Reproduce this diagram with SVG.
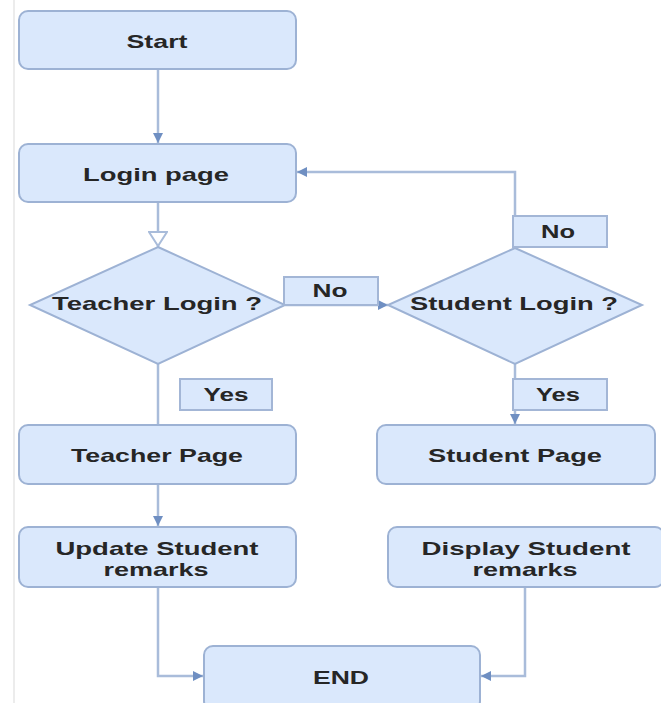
<svg xmlns="http://www.w3.org/2000/svg" width="661" height="703" viewBox="0 0 661 703">
<style>
.box{fill:#dae8fc;stroke:#9db2d4;stroke-width:2}
.lbl{fill:#dae8fc;stroke:#a3b6d6;stroke-width:2}
.t{font-family:"Liberation Sans",Arial,sans-serif;font-weight:bold;font-size:19px;fill:#262626;text-anchor:middle}
.c{fill:none;stroke:#a9bcda;stroke-width:2.5}
</style>
<defs>
<marker id="a" viewBox="0 0 10 10" refX="10" refY="5" markerWidth="10" markerHeight="10" markerUnits="userSpaceOnUse" orient="auto">
<path d="M0,0 L10,5 L0,10 Z" fill="#6f8fc2"/>
</marker>
<marker id="o" viewBox="0 0 16 20" refX="16" refY="10" markerWidth="16" markerHeight="20" markerUnits="userSpaceOnUse" orient="auto">
<path d="M1,1 L15,10 L1,19 Z" fill="#ffffff" stroke="#a9bcda" stroke-width="2"/>
</marker>
</defs>
<rect width="661" height="703" fill="#ffffff"/>
<line x1="14" y1="0" x2="14" y2="703" stroke="#ececec" stroke-width="2"/>
<g id="connectors">
<path class="c" d="M158,69 V143" marker-end="url(#a)"/>
<path class="c" d="M158,202 V247" marker-end="url(#o)"/>
<path class="c" d="M285,305 H388" marker-end="url(#a)"/>
<path class="c" d="M515,248 V172 H297" marker-end="url(#a)"/>
<path class="c" d="M158,364 V425"/>
<path class="c" d="M515,364 V424" marker-end="url(#a)"/>
<path class="c" d="M158,484 V526" marker-end="url(#a)"/>
<path class="c" d="M158,587 V676 H203" marker-end="url(#a)"/>
<path class="c" d="M525,587 V676 H481" marker-end="url(#a)"/>
</g>
<g id="start"><rect class="box" x="19" y="11" width="277" height="58" rx="9"/><text class="t" x="157" y="48" textLength="61" lengthAdjust="spacingAndGlyphs">Start</text></g>
<g id="login"><rect class="box" x="19" y="144" width="277" height="58" rx="9"/><text class="t" x="156" y="181" textLength="146" lengthAdjust="spacingAndGlyphs">Login page</text></g>
<g id="teacherLogin"><path class="box" d="M158,247 L285,305 L158,364 L30,305 Z"/><text class="t" x="157" y="310" textLength="210" lengthAdjust="spacingAndGlyphs">Teacher Login ?</text></g>
<g id="studentLogin"><path class="box" d="M515,248 L642,305 L515,364 L388,305 Z"/><text class="t" x="514" y="310" textLength="208" lengthAdjust="spacingAndGlyphs">Student Login ?</text></g>
<g id="noMid"><rect class="lbl" x="284" y="277" width="94" height="28"/><text class="t" x="330" y="297" textLength="35" lengthAdjust="spacingAndGlyphs">No</text></g>
<g id="noTop"><rect class="lbl" x="513" y="216" width="94" height="31"/><text class="t" x="558" y="238" textLength="34" lengthAdjust="spacingAndGlyphs">No</text></g>
<g id="yesTeacher"><rect class="lbl" x="180" y="379" width="92" height="31"/><text class="t" x="226" y="401" textLength="45" lengthAdjust="spacingAndGlyphs">Yes</text></g>
<g id="yesStudent"><rect class="lbl" x="513" y="379" width="94" height="31"/><text class="t" x="558" y="401" textLength="44" lengthAdjust="spacingAndGlyphs">Yes</text></g>
<g id="teacherPage"><rect class="box" x="19" y="425" width="277" height="59" rx="9"/><text class="t" x="157" y="462" textLength="172" lengthAdjust="spacingAndGlyphs">Teacher Page</text></g>
<g id="studentPage"><rect class="box" x="377" y="425" width="278" height="59" rx="9"/><text class="t" x="515" y="462" textLength="174" lengthAdjust="spacingAndGlyphs">Student Page</text></g>
<g id="update"><rect class="box" x="19" y="527" width="277" height="60" rx="9"/><text class="t" x="157" y="555" textLength="203" lengthAdjust="spacingAndGlyphs">Update Student</text><text class="t" x="156" y="576" textLength="105" lengthAdjust="spacingAndGlyphs">remarks</text></g>
<g id="display"><rect class="box" x="388" y="527" width="276" height="60" rx="9"/><text class="t" x="526" y="555" textLength="209" lengthAdjust="spacingAndGlyphs">Display Student</text><text class="t" x="525" y="576" textLength="105" lengthAdjust="spacingAndGlyphs">remarks</text></g>
<g id="end"><rect class="box" x="204" y="646" width="276" height="64" rx="9"/><text class="t" x="341" y="684" textLength="56" lengthAdjust="spacingAndGlyphs">END</text></g>
</svg>
